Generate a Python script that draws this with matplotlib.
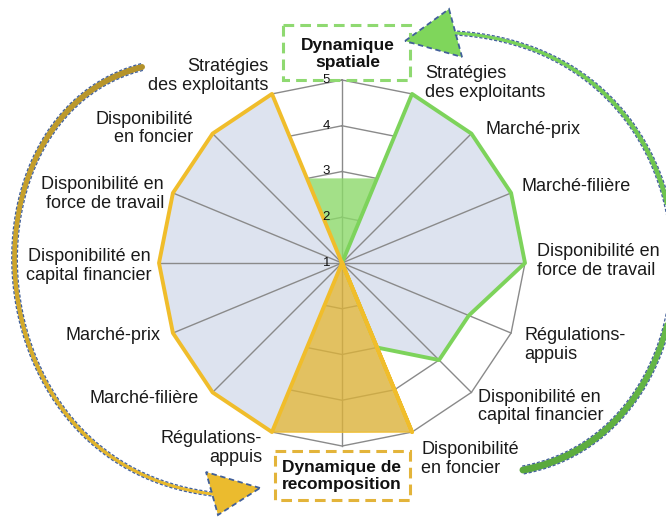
import numpy as np
import matplotlib
matplotlib.use("Agg")
import matplotlib.pyplot as plt
from matplotlib.collections import LineCollection
from matplotlib.patches import Polygon, Rectangle
from matplotlib.colors import to_rgb

plt.rcParams['font.family'] = ['Liberation Sans', 'DejaVu Sans']

# 16 spokes, clockwise from the top (top = Dynamique spatiale, bottom = Dynamique de recomposition)
axis_labels = ["", "Stratégies\ndes exploitants", "Marché-prix", "Marché-filière",
               "Disponibilité en\nforce de travail", "Régulations-\nappuis",
               "Disponibilité en\ncapital financier", "Disponibilité\nen foncier",
               "", "Régulations-\nappuis", "Marché-filière", "Marché-prix",
               "Disponibilité en\ncapital financier", "Disponibilité en\nforce de travail",
               "Disponibilité\nen foncier", "Stratégies\ndes exploitants"]
scores_all = [1, 5, 5, 5, 5, 4, 4, 3, 1, 5, 5, 5, 5, 5, 5, 5]
scores_spatial = [1, 5, 5, 5, 5, 4, 4, 3, 1, 1, 1, 1, 1, 1, 1, 1]
scores_recomp = [1, 1, 1, 1, 1, 1, 1, 5, 1, 5, 5, 5, 5, 5, 5, 5]
zone_spatial = [2.85, 3, 1, 1, 1, 1, 1, 1, 1, 1, 1, 1, 1, 1, 1, 3]
zone_recomp = [1, 1, 1, 1, 1, 1, 1, 5, 4.7, 5, 1, 1, 1, 1, 1, 1]
rings = [2, 3, 4, 5]
tick_values = [1, 2, 3, 4, 5]

# label offsets from the outer vertex, in pixels
label_offsets = [None, (13, 11), (14, 4), (10, 6), (12, 2), (13, -12), (7, -14), (9, -27),
                 None, (-10, -16), (-14, -6), (-12, -2), (-8, -3), (-9, -1), (-19, 5), (-4, 18)]

n = len(axis_labels)
theta = np.arange(n) * 2 * np.pi / n
theta_c = np.append(theta, theta[0])


def closed(v):
    return np.append(v, v[0])


fig = plt.figure(figsize=(6.66, 5.17), dpi=100)
ax = fig.add_axes([159 / 666, 71 / 517, 366 / 666, 366 / 517], projection='polar')
ax.set_theta_zero_location('N')
ax.set_theta_direction(-1)
ax.set_ylim(1, 5)
ax.grid(False)
ax.set_xticks([])
ax.set_yticks([])
ax.spines['polar'].set_visible(False)

# rings sit under the filled profile, spokes over it
for r in rings:
    ax.plot(theta_c, [r] * (n + 1), color='#8a8a8a', lw=1.0, zorder=0.5, clip_on=False)

ax.fill(theta_c, closed(scores_all), color='#dde3ef', zorder=1, clip_on=False)

for t in theta:
    ax.plot([t, t], [1, 5], color='#8a8a8a', lw=1.0, zorder=2, clip_on=False)

# highlighted zones
ax.fill(theta_c, closed(zone_recomp), facecolor='#dbb23a', alpha=0.8,
        edgecolor='#f0bd2b', lw=1.0, zorder=3, clip_on=False)
ax.fill(theta_c, closed(zone_spatial), facecolor='#8cd96a', alpha=0.8,
        edgecolor='none', zorder=3, clip_on=False)

ax.plot(theta_c, closed(scores_all), color='black', lw=1.1, zorder=4, clip_on=False)
ax.plot(theta_c, closed(scores_spatial), color='#7dd35b', lw=2.8, zorder=5, clip_on=False)
ax.plot(theta_c, closed(scores_recomp), color='#f0bd2b', lw=2.8, zorder=6, clip_on=False)

for v in tick_values:
    ax.annotate(str(v), xy=(0, v), xytext=(-12, 0), textcoords='offset pixels',
                ha='right', va='center', fontsize=9.5, color='#111111', zorder=7,
                annotation_clip=False)

for t, lab, off in zip(theta, axis_labels, label_offsets):
    if not lab:
        continue
    ax.annotate(lab, xy=(t, 5), xytext=off, textcoords='offset pixels',
                ha='left' if off[0] > 0 else 'right', va='center',
                fontsize=13, color='#1a1a1a', linespacing=1.1, annotation_clip=False)

# overlay in pixel units for the boxes and the cycle arrows
ov = fig.add_axes([0, 0, 1, 1], zorder=5)
ov.set_xlim(0, 666)
ov.set_ylim(517, 0)
ov.patch.set_visible(False)
ov.axis('off')

ov.add_patch(Rectangle((283, 25), 127, 55, fill=False, ec='#8fd971', lw=2.2, ls=(0, (3.5, 2))))
ov.add_patch(Rectangle((275, 451), 135, 49, fill=False, ec='#e3b43a', lw=2.2, ls=(0, (3.5, 2))))
ov.text(348, 54, "Dynamique\nspatiale", ha='center', va='center', fontsize=12.5,
        fontweight='bold', linespacing=1.2, color='#111111')
ov.text(342, 476, "Dynamique de\nrecomposition", ha='center', va='center', fontsize=12.5,
        fontweight='bold', linespacing=1.2, color='#111111')


def bezier(p0, p1, p2, p3, m=160):
    t = np.linspace(0, 1, m)[:, None]
    p0, p1, p2, p3 = map(np.asarray, (p0, p1, p2, p3))
    return (1 - t) ** 3 * p0 + 3 * (1 - t) ** 2 * t * p1 + 3 * (1 - t) * t ** 2 * p2 + t ** 3 * p3


def band(pts, w0, w1, c0, c1):
    w = np.linspace(w0, w1, len(pts))
    segs = np.stack([pts[:-1], pts[1:]], axis=1)
    a, b = np.array(to_rgb(c0)), np.array(to_rgb(c1))
    f = np.linspace(0, 1, len(segs))[:, None]
    cols = a * (1 - f) + b * f
    ov.add_collection(LineCollection(segs, linewidths=w[:-1] * 0.72, colors=cols,
                                     capstyle='round'))
    d = np.gradient(pts, axis=0)
    d /= np.linalg.norm(d, axis=1)[:, None]
    nrm = np.stack([-d[:, 1], d[:, 0]], axis=1)
    for s in (1, -1):
        side = pts + s * nrm * (w / 2 + 0.5)[:, None]
        ov.plot(side[:, 0], side[:, 1], color='#42609a', lw=0.9, ls=(0, (2.5, 1.5)))


green_arc = bezier((523, 470), (735, 430), (735, 50), (455, 33))
band(green_arc, 7, 3, '#5aa83c', '#7ad65a')
ov.add_patch(Polygon([(405, 41), (449, 9), (462, 57)], closed=True, fc='#7fd65b',
                     ec='#42609a', lw=1.3, ls=(0, (3, 2))))

gold_arc = bezier((142, 67), (-45, 115), (-30, 465), (212, 494))
band(gold_arc, 6, 3, '#b3922b', '#ecbc2c')
ov.add_patch(Polygon([(260, 488), (206, 472), (218, 515)], closed=True, fc='#ebbb2e',
                     ec='#42609a', lw=1.3, ls=(0, (3, 2))))

fig.savefig("out.png", dpi=100)
